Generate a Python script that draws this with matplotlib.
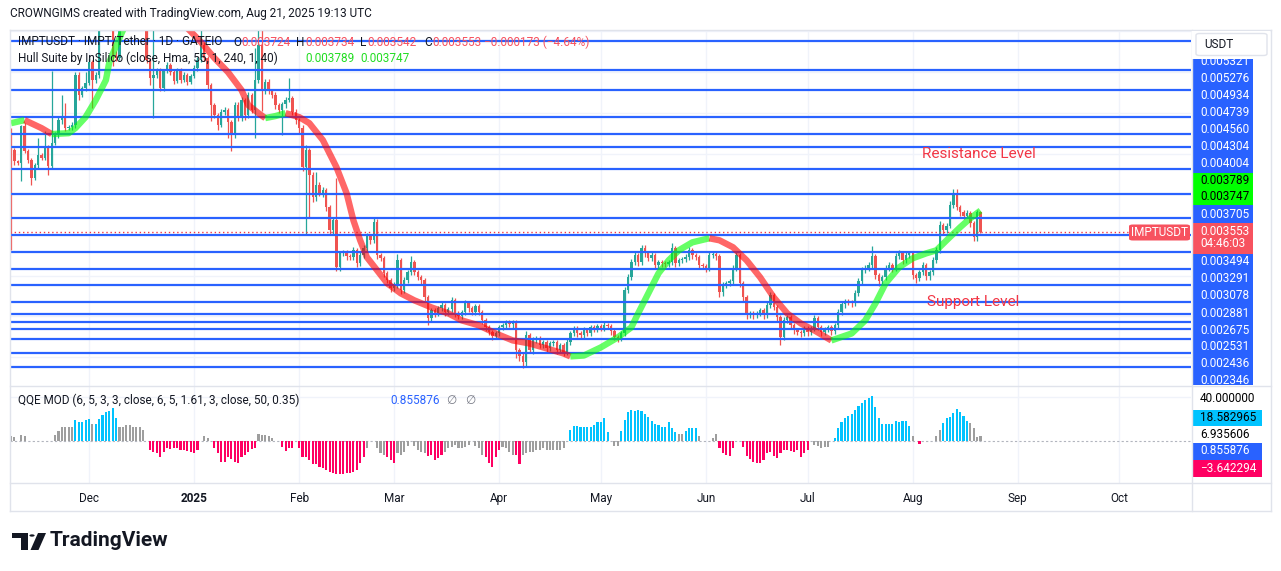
import numpy as np
import pandas as pd
import matplotlib
matplotlib.use("Agg")
import matplotlib.pyplot as plt
import matplotlib.dates as mdates
from matplotlib.lines import Line2D
from matplotlib.patches import Rectangle, FancyBboxPatch, Polygon, Circle

plt.rcParams['font.family'] = ['Roboto', 'DejaVu Sans']

# IMPT/USDT daily candles, 2024-11-08 .. 2025-08-21, prices in 1e-6 USDT
first_open = 4446
closes = [
    4277, 4179, 4161, 4491, 4268, 4188, 4028, 4144, 4233, 4206, 4295, 4135, 4339, 4411, 4544, 4580, 4473, 4482, 4500, 4945,
    4767, 4829, 4873, 5060, 4900, 4945, 5434, 5568, 5657, 5523, 5122, 5096, 5434, 5523, 5612, 5701, 5657, 5568, 5612, 5523,
    5078, 4918, 4945, 4980, 4829, 4980, 5034, 4971, 4891, 4989, 4900, 4945, 4882, 4936, 5007, 5078, 5212, 5096, 4856, 4677,
    4589, 4500, 4615, 4633, 4526, 4411, 4677, 4562, 4722, 4589, 4767, 4633, 4900, 5212, 4802, 4882, 4802, 4767, 4677, 4633,
    4686, 4722, 4740, 4615, 4544, 4473, 4126, 4277, 4055, 3859, 3966, 3894, 3921, 3770, 3565, 3654, 3236, 3360, 3369, 3334,
    3325, 3387, 3271, 3343, 3405, 3512, 3476, 3636, 3343, 3316, 3182, 3120, 3049, 3076, 3298, 3031, 3120, 3191, 3280, 3191,
    3147, 3120, 2969, 2782, 2853, 2826, 2871, 2898, 2835, 2862, 2942, 2826, 2800, 2835, 2915, 2871, 2835, 2889, 2835, 2764,
    2702, 2657, 2622, 2648, 2702, 2720, 2746, 2728, 2746, 2497, 2452, 2390, 2631, 2497, 2586, 2604, 2542, 2568, 2515, 2559,
    2568, 2497, 2542, 2479, 2568, 2648, 2693, 2648, 2631, 2675, 2648, 2702, 2684, 2711, 2693, 2720, 2711, 2666, 2613, 2604,
    2648, 3031, 3147, 3280, 3343, 3280, 3405, 3360, 3316, 3343, 3254, 3280, 3271, 3262, 3280, 3405, 3271, 3298, 3307, 3325,
    3387, 3343, 3325, 3254, 3245, 3227, 3343, 3351, 3334, 3013, 3076, 3093, 3111, 3227, 3343, 3093, 2969, 2808, 2826, 2808,
    2826, 2853, 2808, 2898, 2987, 2880, 2791, 2613, 2764, 2791, 2720, 2675, 2657, 2648, 2693, 2657, 2693, 2782, 2702, 2657,
    2684, 2702, 2666, 2720, 2835, 2906, 2933, 2924, 2915, 3004, 3111, 3209, 3227, 3254, 3334, 3165, 3111, 3147, 3227, 3254,
    3227, 3334, 3360, 3298, 3343, 3360, 3165, 3138, 3191, 3254, 3156, 3191, 3298, 3387, 3610, 3565, 3601, 3787, 3894, 3770,
    3725, 3690, 3716, 3627, 3503, 3724, 3553,
]
# wick length above the body / below the body
hi_wick = [
    30, 20, 15, 10, 25, 20, 15, 20, 150, 20, 150, 25, 640, 30, 40, 190, 115, 20, 25, 30,
    26, 20, 100, 40, 20, 25, 60, 50, 40, 30, 20, 40, 30, 30, 40, 30, 30, 20, 30, 30,
    40, 20, 420, 30, 30, 20, 30, 20, 25, 20, 20, 25, 20, 20, 25, 30, 150, 30, 20, 20,
    20, 20, 30, 25, 20, 20, 30, 25, 30, 20, 30, 20, 285, 150, 130, 30, 25, 20, 25, 20,
    20, 25, 180, 20, 25, 20, 30, 45, 20, 25, 115, 30, 25, 20, 20, 25, 380, 20, 25, 20,
    20, 25, 20, 25, 30, 25, 20, 40, 30, 20, 20, 20, 25, 30, 60, 20, 30, 25, 60, 20,
    20, 20, 20, 20, 25, 20, 25, 30, 20, 25, 30, 20, 20, 25, 30, 25, 20, 25, 20, 20,
    20, 20, 20, 25, 25, 20, 25, 20, 25, 20, 20, 20, 40, 25, 30, 25, 20, 25, 20, 25,
    25, 20, 25, 20, 30, 25, 25, 20, 20, 30, 20, 25, 20, 25, 20, 30, 25, 20, 20, 20,
    25, 30, 30, 30, 35, 20, 30, 25, 20, 25, 20, 25, 20, 20, 25, 45, 20, 25, 20, 25,
    30, 20, 20, 20, 20, 20, 25, 30, 20, 20, 25, 20, 25, 30, 30, 20, 20, 20, 25, 20,
    25, 25, 20, 30, 30, 20, 20, 20, 30, 25, 20, 20, 20, 20, 25, 20, 25, 30, 20, 20,
    25, 25, 20, 25, 30, 30, 25, 20, 20, 30, 30, 30, 25, 25, 90, 20, 20, 25, 30, 25,
    20, 30, 30, 20, 25, 25, 20, 20, 25, 30, 20, 25, 30, 30, 35, 20, 30, 40, 35, 36,
    20, 20, 25, 20, 20, 20, 10,
]
lo_wick = [
    890, 30, 20, 160, 20, 25, 60, 20, 25, 20, 20, 80, 25, 20, 25, 30, 25, 20, 30, 25,
    45, 20, 25, 20, 250, 25, 30, 20, 25, 30, 100, 30, 20, 25, 20, 25, 30, 20, 25, 30,
    30, 60, 356, 25, 30, 25, 20, 25, 30, 20, 25, 20, 25, 20, 20, 25, 20, 30, 40, 140,
    30, 45, 20, 25, 140, 140, 30, 25, 30, 40, 30, 25, 250, 30, 180, 25, 30, 25, 30, 30,
    220, 30, 20, 25, 30, 40, 30, 590, 370, 40, 30, 25, 30, 30, 40, 30, 30, 30, 25, 30,
    25, 20, 30, 25, 20, 25, 30, 20, 30, 25, 30, 25, 30, 20, 25, 30, 20, 25, 20, 25,
    25, 30, 30, 60, 25, 30, 20, 25, 30, 20, 25, 30, 20, 25, 20, 30, 25, 20, 25, 30,
    30, 25, 30, 20, 25, 20, 25, 20, 30, 70, 50, 45, 30, 25, 30, 20, 25, 20, 30, 25,
    20, 30, 25, 30, 20, 25, 20, 30, 25, 20, 25, 20, 25, 20, 25, 20, 25, 30, 25, 30,
    20, 25, 20, 25, 20, 30, 25, 30, 25, 20, 35, 25, 30, 25, 20, 25, 30, 25, 20, 25,
    25, 30, 25, 30, 25, 30, 20, 25, 30, 40, 30, 25, 20, 25, 20, 30, 30, 35, 25, 30,
    25, 20, 30, 25, 20, 25, 30, 70, 25, 20, 25, 30, 25, 30, 20, 30, 25, 20, 25, 30,
    20, 25, 30, 25, 20, 25, 30, 25, 30, 25, 20, 20, 25, 20, 25, 30, 40, 25, 20, 25,
    30, 20, 25, 30, 25, 20, 30, 40, 25, 20, 35, 30, 25, 20, 20, 30, 20, 20, 20, 25,
    30, 25, 20, 30, 30, 30, 11,
]

# Hull Suite (HMA 55): (day number, value)
hull_pts = [
    (0, 4517), (4, 4544), (9, 4473), (12, 4420), (17, 4428), (19, 4473), (22, 4571), (25, 4722),
    (28, 4900), (29, 5060), (32, 5274), (35, 5478), (38, 5612), (41, 5683), (44, 5701), (47, 5657),
    (50, 5478), (52, 5363), (56, 5238), (60, 5096), (64, 4971), (68, 4811), (70, 4677), (73, 4606),
    (75, 4562), (78, 4580), (81, 4606), (85, 4571), (88, 4517), (92, 4366), (96, 4126), (99, 3894),
    (101, 3654), (103, 3476), (105, 3325), (108, 3209), (111, 3093), (115, 3004), (119, 2942),
    (124, 2880), (129, 2826), (133, 2764), (138, 2720), (143, 2648), (148, 2586), (153, 2559),
    (158, 2515), (163, 2470), (165, 2444), (169, 2452), (174, 2524), (179, 2613), (183, 2702),
    (185, 2826), (188, 3004), (191, 3182), (194, 3298), (197, 3387), (201, 3458), (206, 3494),
    (209, 3476), (213, 3414), (217, 3298), (221, 3147), (225, 2969), (229, 2826), (233, 2737),
    (237, 2675), (242, 2586), (248, 2648), (252, 2764), (255, 2915), (258, 3093), (262, 3236),
    (266, 3316), (270, 3360), (273, 3387), (276, 3476), (280, 3592), (283, 3672), (286, 3740),
]

# QQE MOD histogram, one value per candle, with colour b=blue g=grey r=red
qqe_val = [
    4.8, 3.9, 0, 6.1, 4.8, 0, 0, 0, 0, 0, 0, 0, 0,
    6, 9, 13, 13, 13, 13, 19, 18, 18, 19, 20.6, 15.8, 16, 20.6, 23.6, 26.6, 28, 30, 21, 13, 13, 14.5, 14.5, 13, 13, 13, 10,
    0, -7.9, -9.4, -11, -14.5, -9.4, -6.4, -7.3, -6.4, -6.4, -7.9, -7.9, -8.5, -9.4, -11, -7.9, 0, 4.8, 2.7, 0,
    -6.4, -11, -18.5, -18.5, -14, -16, -18.5, -20, -14, -12.4, -9.4, -7, -6.4, 6.4, 5.8, 5.8, 4.8, 2.7, 0, 0, -4.8, -8.8, -6.4, -6.4, 0,
    -6.4, -14, -14, -17, -21, -21, -23, -24, -26, -28, -29, -30, -30, -30, -29, -29, -28, -26, -20, -14, -6.4, 0, 0,
    -6.4, -11, -12.4, -14, -17, -20, -11, -12.4, -9.4, -4, 0,
    -4, -8, -9.4, -11, -13, -12.4, -17, -15.5, -12.4, -9.4, -6.4, -4.8, -3.3, -6.4, -6.4, -4.8, -3.3, 0,
    -4, -6.4, -12.4, -14, -20, -23, -14, -8, -4.8, -6.4, -9.4, -12.4, -12.4, -21, -12.4, -11, -9.4, -9.4, -8, -8, -6.4,
    -8, -8, -8, -8, -8, -6.4, 0,
    10.3, 14, 14.2, 13.3, 13.3, 13.3, 13.3, 14.8, 17.9, 17.9, 21, 8.8, 0, -4, -4, 9.4,
    19.4, 27, 28.5, 27.9, 28.5, 27.9, 24.5, 22.4, 18.5, 15.5, 14.8, 13.3, 13.3, 17.3, 11.8, 8.8, 6.4, 6.4, 9.4, 12.4,
    11.8, 11.8, 4.8, 0, 0, 0,
    3, 6.4, -5.8, -11, -12.4, -13.3, -6.4, 0, 0, -4.8, -13, -16, -18.5, -19.4, -19.4, -17, -11, -9.4, -13, -14.8, -11,
    -8, -8, -8.8, -9.4, -8, -14, -11, -8, 0,
    -3.3, -4, -6.4, -4.8, -5.5, 0,
    3.3, 11.8, 17.9, 21, 23, 24.8, 28.5, 32, 34.5, 37.6, 39.7, 41.2, 31.5, 21.5, 15.5, 15.5, 15.5, 15.5, 18.5, 17.9,
    18.5, 18.5, 14.2, 5.2, 0,
    -2.7, 0, 0, 0, 0, 4.8, 10.3, 17, 21, 21.8, 25.5, 29.4, 27, 23, 18.5, 16.4, 11.8, 4.2, 4.8,
]
qqe_col = ("gg.gg........"
           "gggggg" "bbbbb" "g" "bbbbbbb" "gggggggg"
           "." "rrrrrrrrrrrrrrr" "." "gg" "."
           "rrrrrrrrrrrrr" "ggggg" ".." "rrrr" "."
           "rrrrrrrrrrrrrrrrrrrr" "g" ".."
           "gggrrrgggg" "." "ggggrrrrrgggggggg" "."
           "ggg" "rrrrr" "gggg" "rr" "ggggggggggggg" "."
           "bbbbbbbbbbbb" "." "gg" "b"
           "bbbbbbbbbbbbbbbb" "gg" "bbbb" "g" "..."
           "gg" "rrrrr" ".." "rrrrrrrrrrrrrrrrrrrr" "."
           "ggggg" "."
           "bbbbbbbbbbbbbbbbbbbbbbb" "g" "."
           "r" "...." "gg" "bbbbbbbb" "gggg")

levels = [5250, 4992, 4814, 4568, 4422, 4301, 4111, 3888, 3674, 3523,
          3372, 3221, 3078, 2927, 2820, 2749, 2687, 2598, 2476, 2348]
last_price = 3553

months = ['Dec', '2025', 'Feb', 'Mar', 'Apr', 'May', 'Jun', 'Jul', 'Aug', 'Sep', 'Oct']
month_start = ['2024-12-01', '2025-01-01', '2025-02-01', '2025-03-01', '2025-04-01', '2025-05-01',
               '2025-06-01', '2025-07-01', '2025-08-01', '2025-09-01', '2025-10-01']

price_labels = ['0.005321', '0.005276', '0.004934', '0.004739', '0.004560', '0.004304', '0.004004',
                '0.003789', '0.003747', '0.003705', '0.003553', '04:46:03', '0.003494', '0.003291',
                '0.003078', '0.002881', '0.002675', '0.002531', '0.002436', '0.002346']
qqe_labels = ['40.000000', '18.582965', '6.935606', '0.855876', '\u22123.642294']

assert len(closes) == len(hi_wick) == len(lo_wick) == len(qqe_val) == len(qqe_col) == 287

# ---------------------------------------------------------------- layout
W, H = 1281, 571
def fx(px): return px / W
def fy(py): return 1 - py / H

DARK = '#131722'
BORDER = '#e0e3eb'
GRID = '#f0f3fa'
UP, DOWN = '#26a69a', '#ef5350'
BLUE = '#2962ff'

fig = plt.figure(figsize=(W / 100, H / 100), dpi=100)
fig.patch.set_facecolor('white')
ax = fig.add_axes([fx(10), fy(385.5), fx(1191) - fx(10), fy(30) - fy(385.5)])
ax2 = fig.add_axes([fx(10), fy(482.5), fx(1191) - fx(10), fy(386) - fy(482.5)])

dates = pd.date_range('2024-11-08', periods=len(closes), freq='D')
xs = mdates.date2num(dates)
mx = mdates.date2num(pd.to_datetime(month_start))

for a in (ax, ax2):
    a.set_xlim(xs[0] - 0.3, xs[0] + 348.1)
    for s in a.spines.values():
        s.set_visible(False)
    a.set_yticks([])
    for m in mx:
        a.axvline(m, color=GRID, lw=1, zorder=0)
ax.set_ylim(2185.5, 5345)
ax2.set_ylim(-37.5, 50.3)
ax.set_xticks([])

for g in [5333, 4971, 4609, 4247, 3885, 3522, 3160, 2800, 2435]:
    ax.axhline(g, color=GRID, lw=1, zorder=0)

# candles
c = np.array(closes, dtype=float)
o = np.array([first_open] + closes[:-1], dtype=float)
hi = np.maximum(o, c) + np.array(hi_wick)
lo = np.minimum(o, c) - np.array(lo_wick)
cols = np.where(c >= o, UP, DOWN)
ax.vlines(xs, lo, hi, colors=cols, lw=0.9, zorder=2)
ax.bar(xs, np.maximum(np.abs(c - o), 9), bottom=np.minimum(o, c), width=0.7,
       color=cols, lw=0, zorder=2)

# support / resistance lines
for lv in levels:
    ax.axhline(lv, color=BLUE, lw=1.6, zorder=3)
ax.axhline(last_price, xmax=(1128 - 10) / 1181, color='#f23645', lw=1,
           ls=(0, (1, 2)), zorder=3)

# hull band, coloured by direction
hx = xs[[p[0] for p in hull_pts]]
hv = np.array([p[1] for p in hull_pts], dtype=float)
seg = ['#00ff00' if hv[k + 1] >= hv[k] else '#ff0000' for k in range(len(hv) - 1)]
start = 0
for k in range(1, len(seg) + 1):
    if k == len(seg) or seg[k] != seg[start]:
        ax.plot(hx[start:k + 1], hv[start:k + 1], color=seg[start], lw=4.6, alpha=0.6,
                solid_capstyle='butt', zorder=4)
        start = k

# QQE histogram
cmap = {'b': '#00c3ff', 'g': '#9e9e9e', 'r': '#ff0062', '.': 'none'}
ax2.bar(xs, qqe_val, width=0.62, color=[cmap[k] for k in qqe_col], lw=0, zorder=2)
ax2.axhline(0, color='#b2b5be', lw=0.8, ls=(0, (2, 2)), zorder=1)
ax2.axhline(40, color=GRID, lw=1, zorder=0)
ax2.set_xticks(mx)
ax2.set_xticklabels(months)
ax2.tick_params(axis='x', length=0, pad=7, labelsize=8.5, colors=DARK)
ax2.get_xticklabels()[1].set_fontweight('bold')

# frame
def line(x0, y0, x1, y1, color=BORDER, lw=1):
    fig.add_artist(Line2D([fx(x0), fx(x1)], [fy(y0), fy(y1)], color=color, lw=lw))
for yy in (30, 385.5, 482.5, 510.5):
    line(10, yy, 1271, yy)
for xx in (10, 1191.5, 1271):
    line(xx, 30, xx, 510.5)

def box(x0, y0, x1, y1, fc, z=1, ec='none', round_=False):
    if round_:
        p = FancyBboxPatch((fx(x0), fy(y1)), fx(x1) - fx(x0), fy(y0) - fy(y1),
                           boxstyle='round,pad=0,rounding_size=0.003', fc=fc, ec=ec,
                           transform=fig.transFigure, zorder=z)
    else:
        p = Rectangle((fx(x0), fy(y1)), fx(x1) - fx(x0), fy(y0) - fy(y1), fc=fc, ec=ec,
                      lw=0.8, transform=fig.transFigure, zorder=z)
    fig.add_artist(p)

def txt(x, y, s, color=DARK, size=8.5, z=5, **kw):
    return fig.text(fx(x), fy(y), s, color=color, fontsize=size, va='center', zorder=z, **kw)

# price scale labels
box(1192, 58.5, 1253, 172.7, BLUE)
box(1192, 172.7, 1253, 205, '#00ff00')
box(1192, 205, 1253, 222.7, BLUE)
box(1192, 222.7, 1253, 254, '#f7525f')
box(1192, 254, 1253, 385, BLUE)
label_y = [61.7, 79, 95.7, 112.3, 129.3, 146.7, 163.3, 180.7, 196.7, 214, 231.7, 243.3,
           261.7, 278.3, 295.7, 313.3, 330, 346.7, 363.3, 380]
for s, yy in zip(price_labels, label_y):
    col = 'black' if s in ('0.003789', '0.003747') else 'white'
    txt(1200, yy, s, color=col, size=8.5, z=2)
box(1192, 31, 1270, 58.5, 'white', z=3)
box(1196, 33.5, 1267, 55.5, 'white', z=4, ec=BORDER, round_=True)
txt(1204, 44.5, 'USDT', size=8.5)

box(1129, 224.5, 1190, 240.5, '#f7525f', z=4, round_=True)
txt(1159.5, 232.5, 'IMPTUSDT', color='white', size=8.5, ha='center')

# QQE scale labels
box(1192, 409.5, 1262, 426, '#00c3ff')
box(1192, 443, 1262, 459.5, BLUE)
box(1192, 460, 1262, 477, '#ff0062')
for s, yy, col in zip(qqe_labels, [398, 417.7, 434, 451, 468.5],
                      ['black', 'black', 'black', 'white', 'white']):
    txt(1200, yy, s, color=col, size=8.5)

# header and legends
txt(10, 14, 'CROWNGIMS created with TradingView.com, Aug 21, 2025 19:13 UTC', size=8.5)

renderer = fig.canvas.get_renderer()
def runs(x, y, parts, size=8.5):
    for s, col in parts:
        t = txt(x, y, s, color=col, size=size)
        x = t.get_window_extent(renderer).x1 + 0.5

RED = '#f7525f'
txt(18, 42, 'IMPTUSDT \u00b7 IMPT/Tether \u00b7 1D \u00b7 GATEIO')
for x0, key, val in [(233, 'O', '0.003724'), (296, 'H', '0.003734'),
                     (360, 'L', '0.003542'), (424, 'C', '0.003553')]:
    runs(x0, 42, [(key, DARK), (val, RED)])
txt(484, 42, '\u22120.000173 (\u22124.64%)', color=RED)
txt(18, 58, 'Hull Suite by InSilico (close, Hma, 55, 1, 240, 1, 40)')
txt(305, 58, '0.003789', color='#22dd22')
txt(360, 58, '0.003747', color='#22dd22')

txt(18, 400, 'QQE MOD (6, 5, 3, 3, close, 6, 5, 1.61, 3, close, 50, 0.35)')
txt(390, 400, '0.855876', color=BLUE)
txt(446, 400, '\u2205', color='#787b86')
txt(465, 400, '\u2205', color='#787b86')

txt(922, 154, 'Resistance Level', color='#f23645', size=11)
txt(927, 302, 'Support Level', color='#f23645', size=11)

# footer logo
def poly(pts, **kw):
    fig.add_artist(Polygon([(fx(a), fy(b)) for a, b in pts], closed=True,
                           transform=fig.transFigure, **kw))
poly([(12, 533), (28, 533), (28, 550), (21, 550), (21, 538), (12, 538)], fc=DARK, ec='none')
fig.add_artist(Circle((fx(32), fy(535.5)), 2.6 / W, transform=fig.transFigure, fc=DARK, ec='none'))
poly([(38, 533), (46, 533), (38.5, 550), (30.5, 550)], fc=DARK, ec='none')
txt(50, 541, 'TradingView', size=15, fontweight='bold')

fig.savefig('out.png', dpi=100, facecolor='white')
